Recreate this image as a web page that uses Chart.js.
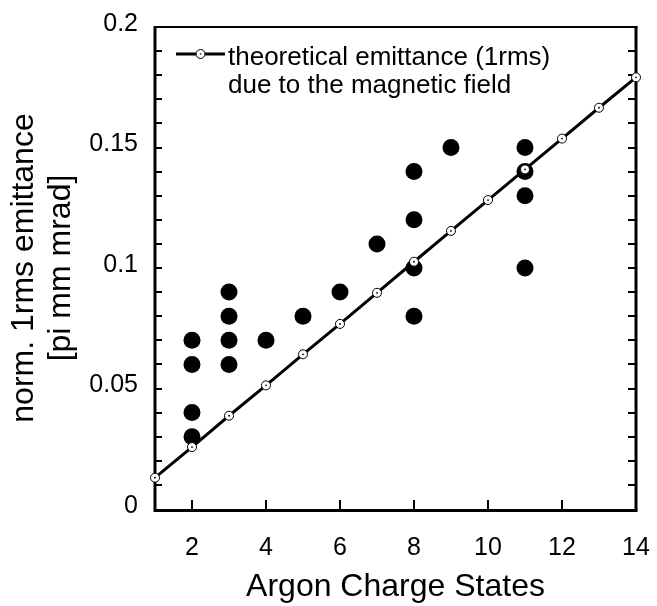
<!DOCTYPE html>
<html><head><meta charset="utf-8">
<script src="https://cdn.jsdelivr.net/npm/chart.js@4"></script>
<style>html,body{margin:0;padding:0;background:#fff}canvas{display:block}</style>
</head><body>
<canvas id="c" width="657" height="606"></canvas>
<script>
const chargeStates = [1,2,3,4,5,6,7,8,9,10,11,12,13,14];
const theoryEmittance = [0.0130,0.0257,0.0387,0.0513,0.0642,0.0768,0.0897,0.1026,0.1154,0.1282,0.1409,0.1537,0.1665,0.1791];
const measCharge = [2,2,2,2,3,3,3,3,4,5,6,7,8,8,8,8,9,11,11,11,11];
const measEmittance = [0.03,0.04,0.06,0.07,0.06,0.07,0.08,0.09,0.07,0.08,0.09,0.11,0.08,0.10,0.12,0.14,0.15,0.10,0.13,0.14,0.15];
const xTicks = [2,4,6,8,10,12,14];
const yTicks = [0,0.05,0.1,0.15,0.2];
const yTickLabels = ['0','0.05','0.1','0.15','0.2'];
const yMinorTicks = [0.01,0.02,0.03,0.04,0.05,0.06,0.07,0.08,0.09,0.10,0.11,0.12,0.13,0.14,0.15,0.16,0.17,0.18,0.19];
const legendLines = ['theoretical emittance (1rms)','due to the magnetic field'];
const xTitle = 'Argon Charge States';
const yTitle = ['norm. 1rms emittance','[pi mm mrad]'];

const FONT = "'Liberation Sans', Arial, sans-serif";
Chart.defaults.font.family = FONT;
Chart.defaults.color = '#000';

const theoryPts = chargeStates.map((x,i)=>({x:x,y:theoryEmittance[i]}));
const measPts = measCharge.map((x,i)=>({x:x,y:measEmittance[i]}));

const framePlugin = {
  id:'frame',
  beforeDatasetsDraw(chart){
    const {ctx, chartArea:a, scales:{x,y}} = chart;
    ctx.save();
    ctx.strokeStyle='#000';
    ctx.lineCap='butt';
    ctx.lineWidth=2;
    ctx.beginPath(); ctx.moveTo(a.left-1,a.top); ctx.lineTo(a.right+1.5,a.top); ctx.stroke();
    ctx.lineWidth=3;
    ctx.beginPath(); ctx.moveTo(a.left,a.top-1); ctx.lineTo(a.left,a.bottom+1.5); ctx.lineTo(a.right+1.5,a.bottom+1.5); ctx.stroke();
    ctx.beginPath(); ctx.moveTo(a.right,a.top-1); ctx.lineTo(a.right,a.bottom+1.5); ctx.stroke();
    ctx.lineWidth=2;
    yMinorTicks.forEach(v=>{
      const py=Math.round(y.getPixelForValue(v));
      ctx.beginPath(); ctx.moveTo(a.left,py); ctx.lineTo(a.left+7,py); ctx.stroke();
      ctx.beginPath(); ctx.moveTo(a.right,py); ctx.lineTo(a.right-8,py); ctx.stroke();
    });
    xTicks.forEach(v=>{
      const px=Math.round(x.getPixelForValue(v));
      ctx.beginPath(); ctx.moveTo(px,a.bottom); ctx.lineTo(px,a.bottom-9); ctx.stroke();
    });
    ctx.restore();
  },
  afterDraw(chart){
    const ctx = chart.ctx;
    ctx.save();
    ctx.strokeStyle='#000'; ctx.lineWidth=3;
    ctx.beginPath(); ctx.moveTo(176,54); ctx.lineTo(225,54); ctx.stroke();
    ctx.fillStyle='#fff'; ctx.lineWidth=1;
    ctx.beginPath(); ctx.arc(200.5,54,4.5,0,Math.PI*2); ctx.fill(); ctx.stroke();
    ctx.fillStyle='#000';
    ctx.beginPath(); ctx.arc(200.5,54,0.8,0,Math.PI*2); ctx.fill();
    ctx.font = "26px " + FONT;
    ctx.textBaseline='alphabetic'; ctx.textAlign='left';
    ctx.fillText(legendLines[0],228,65);
    ctx.fillText(legendLines[1],228,93);
    ctx.restore();
  }
};

new Chart(document.getElementById('c'), {
  type:'scatter',
  data:{
    datasets:[
      {label:'center', data:theoryPts, order:-1, showLine:false, pointRadius:0.9, pointBackgroundColor:'#000', pointBorderWidth:0, clip:false},
      {label:legendLines.join(' '), data:theoryPts, order:0, showLine:true, borderColor:'#000', borderWidth:3,
       pointRadius:4.5, pointBackgroundColor:'#fff', pointBorderColor:'#000', pointBorderWidth:1, clip:false},
      {label:'measured', data:measPts, order:1, pointRadius:8.5, pointBackgroundColor:'#000', pointBorderColor:'#000', pointBorderWidth:0, clip:false}
    ]
  },
  options:{
    responsive:false, animation:false, devicePixelRatio:1,
    layout:{padding:{top:27,right:21,left:0,bottom:0}},
    plugins:{legend:{display:false}, tooltip:{enabled:false}},
    events:[],
    scales:{
      x:{type:'linear', min:1, max:14,
        afterBuildTicks(s){ s.ticks = xTicks.map(v=>({value:v})); },
        afterFit(s){ s.height = 97; s.paddingLeft = 0; s.paddingRight = 0; },
        grid:{display:false, drawTicks:false}, border:{display:false},
        ticks:{padding:24, font:{size:25}, color:'#000', maxRotation:0, autoSkip:false},
        title:{display:true, text:xTitle, font:{size:32, lineHeight:1.2}, color:'#000', padding:{top:0,bottom:0}}
      },
      y:{type:'linear', min:0, max:0.2,
        afterBuildTicks(s){ s.ticks = yTicks.map(v=>({value:v})); },
        afterFit(s){ s.width = 155; s.paddingTop = 0; s.paddingBottom = 0; },
        grid:{display:false, drawTicks:false}, border:{display:false},
        ticks:{padding:17, font:{size:25}, color:'#000', labelOffset:-3, autoSkip:false,
          callback:(v,i)=>yTickLabels[i]},
        title:{display:true, text:yTitle, font:{size:32, lineHeight:'37px'}, color:'#000', padding:{top:5.5,bottom:0}}
      }
    }
  },
  plugins:[framePlugin]
});
</script>
</body></html>
